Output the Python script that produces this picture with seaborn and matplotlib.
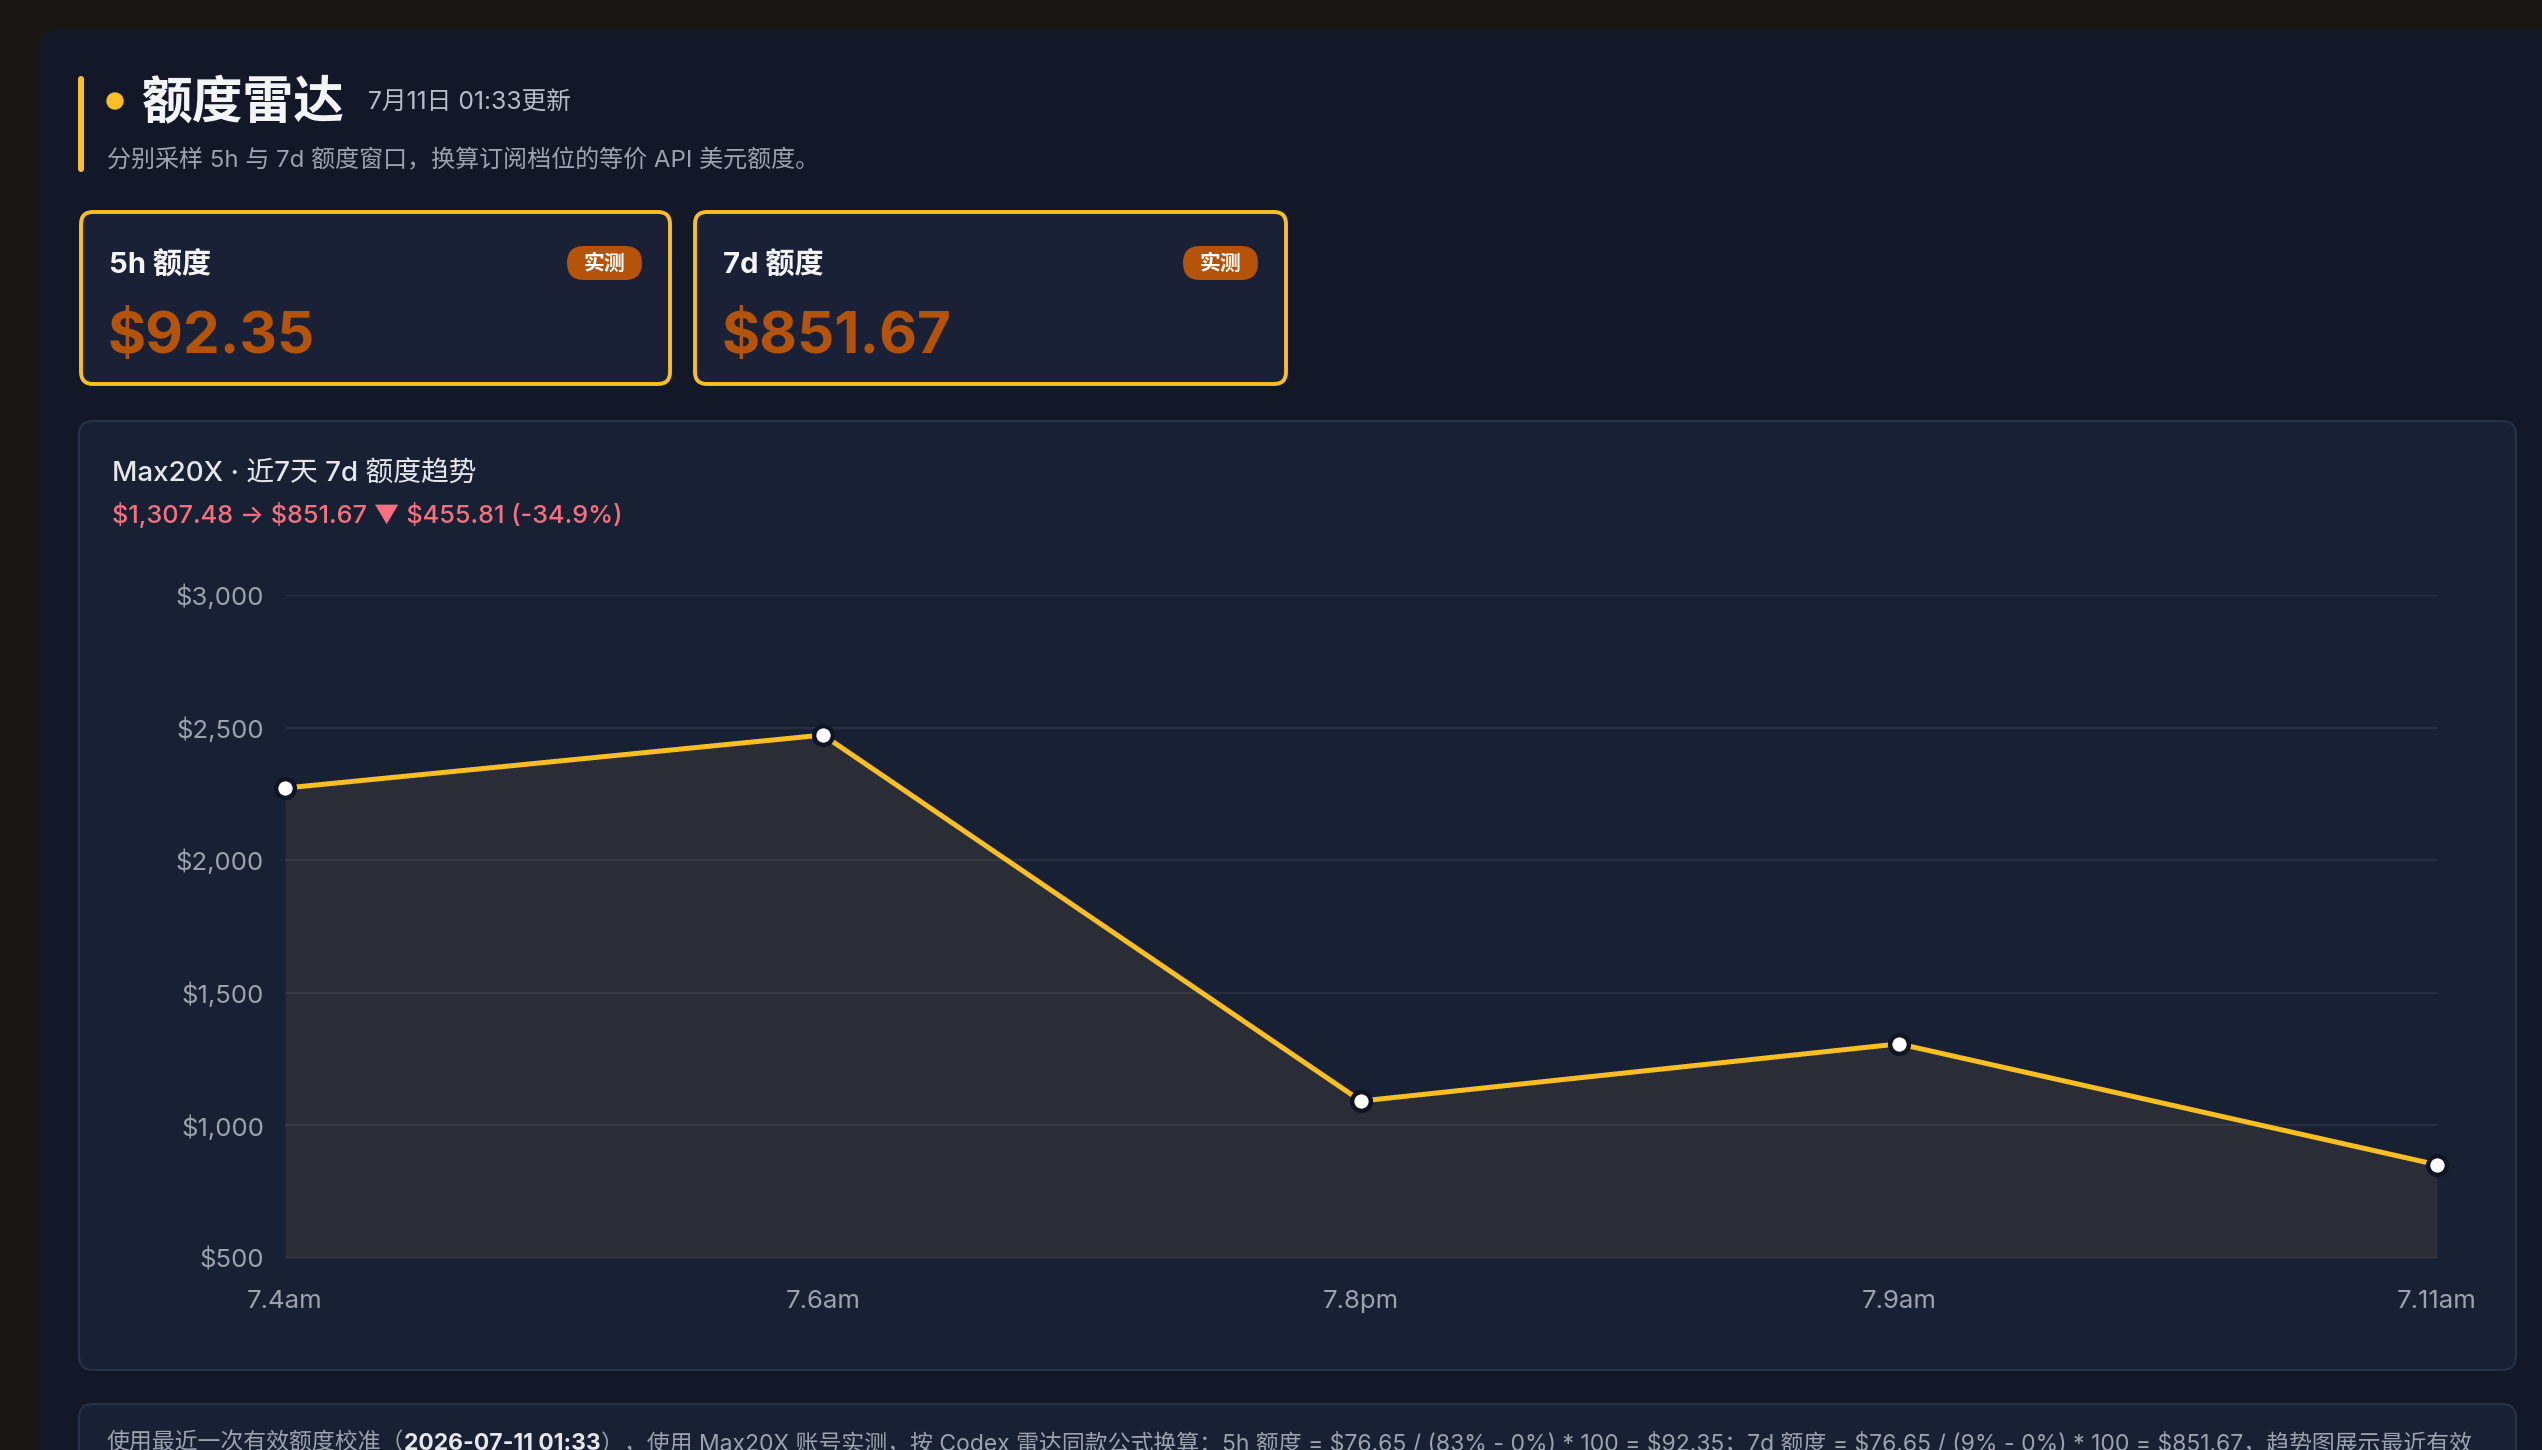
import numpy as np
import pandas as pd
import matplotlib
matplotlib.use('Agg')
import matplotlib.pyplot as plt
import seaborn as sns
from matplotlib.patches import FancyBboxPatch, Circle
from matplotlib.transforms import IdentityTransform
from matplotlib.ticker import FuncFormatter

# ---------------- data ----------------
time_labels = ['7.4am', '7.6am', '7.8pm', '7.9am', '7.11am']
quota_7d = [2272.0, 2472.0, 1092.0, 1307.48, 851.67]
y_ticks = [500, 1000, 1500, 2000, 2500, 3000]
card_titles = ['5h 额度', '7d 额度']
card_values = ['$92.35', '$851.67']
card_badges = ['实测', '实测']
header_title = '额度雷达'
header_time = '7月11日 01:33更新'
header_sub = '分别采样 5h 与 7d 额度窗口，换算订阅档位的等价 API 美元额度。'
chart_title = 'Max20X · 近7天 7d 额度趋势'
chart_delta = '$1,307.48 → $851.67 ▼ $455.81 (-34.9%)'
foot_parts = ['使用最近一次有效额度校准（', '2026-07-11 01:33',
              '），使用 Max20X 账号实测，按 Codex 雷达同款公式换算：5h 额度 = $76.65 / (83% - 0%) * 100 = $92.35；'
              '7d 额度 = $76.65 / (9% - 0%) * 100 = $851.67，趋势图展示最近有效']

# ---------------- setup ----------------
W, H, DPI = 2542, 1450, 100
sns.set_theme(style='dark')
FAM = ['Inter', 'Noto Sans CJK SC', 'DejaVu Sans']
plt.rcParams['font.family'] = FAM
plt.rcParams['axes.unicode_minus'] = False

fig = plt.figure(figsize=(W / DPI, H / DPI), dpi=DPI, facecolor='#1a1614')
ID = IdentityTransform()


def esc(s):
    return s.replace('$', r'\$')


def box(x0, y0, x1, y1, fc, ec='none', lw=0.0, r=0, z=0):
    p = FancyBboxPatch((x0, H - y1), x1 - x0, y1 - y0,
                       boxstyle=f'round,pad=0,rounding_size={r}',
                       transform=ID, facecolor=fc, edgecolor=ec, linewidth=lw, zorder=z)
    fig.add_artist(p)
    return p


def T(x, y, s, **kw):
    kw.setdefault('va', 'center')
    return fig.text(x, H - y, esc(s), transform=ID, **kw)


# main panel
box(39, 30, 2600, 1520, '#121828', r=18)

# header
box(78, 76, 84, 172, '#fbbf24', r=3, z=2)
fig.add_artist(Circle((115, H - 101), 8, transform=ID, color='#fbbf24', zorder=2))
T(141, 104, header_title, fontsize=36.5, weight='bold', color='#f3f4f6')
T(368, 102, header_time, fontsize=17.8, color='#b4bcc8')
T(107, 161, header_sub, fontsize=17.3, color='#9ca3af')

# cards
card_x = [(81, 670), (695, 1286)]
for (x0, x1), title, val, badge in zip(card_x, card_titles, card_values, card_badges):
    box(x0, 212, x1, 384, '#1a2136', ec='#fbbf24', lw=2.8, r=12, z=2)
    T(x0 + 28, 265, title, fontsize=21, weight='bold', color='#f3f4f6', zorder=3)
    box(x1 - 103, 246, x1 - 28, 280, '#b45309', r=17, z=3)
    T(x1 - 65.5, 264, badge, fontsize=15, weight='bold', color='#ffffff', ha='center', zorder=4)
    T(x0 + 27, 338, val, fontsize=42, weight='bold', color='#b4530a', zorder=3)

# chart panel
box(79, 421, 2516, 1370, '#182034', ec='#273248', lw=1.5, r=14, z=1)
T(112, 475, chart_title, fontsize=20, weight='medium', color='#e5e7eb', zorder=3)
T(112, 515, chart_delta, fontsize=18.2, weight='medium', color='#f7707e', zorder=3)

# axes
ax_l, ax_r, ax_t, ax_b = 285, 2437, 595, 1258
ax = fig.add_axes([ax_l / W, 1 - ax_b / H, (ax_r - ax_l) / W, (ax_b - ax_t) / H])
ax.set_facecolor('none')
ax.set_zorder(5)

df = pd.DataFrame({'pos': np.arange(len(time_labels)), 'label': time_labels, 'value': quota_7d})
ax.fill_between(df['pos'], df['value'], y_ticks[0], color='#2a2d36', zorder=1, linewidth=0)
sns.lineplot(data=df, x='pos', y='value', sort=False, ax=ax, color='#fbbf24', linewidth=3.6,
             marker='o', markersize=13.5, markerfacecolor='white', markeredgecolor='#0f1523',
             markeredgewidth=3.2, zorder=4, clip_on=False)

ax.set_xlim(0, len(time_labels) - 1)
ax.set_ylim(y_ticks[0], y_ticks[-1])
ax.set_yticks(y_ticks)
ax.set_xticks(df['pos'])
ax.set_xticklabels(df['label'])
ax.yaxis.set_major_formatter(FuncFormatter(lambda v, p: '\\$' + f'{v:,.0f}'))
ax.set_xlabel('')
ax.set_ylabel('')
for s in ax.spines.values():
    s.set_visible(False)
ax.grid(False)
for v in y_ticks:
    ax.axhline(v, color='white', alpha=0.065, linewidth=1.6, zorder=2)
ax.tick_params(axis='both', length=0, labelsize=18.5, labelcolor='#9ca3af')
ax.tick_params(axis='y', pad=15)
ax.tick_params(axis='x', pad=23)

# footer panel
box(79, 1404, 2516, 1520, '#182034', ec='#273248', lw=1.5, r=14, z=1)
renderer = fig.canvas.get_renderer()
x = 107
for i, part in enumerate(foot_parts):
    bold = (i == 1)
    t = T(x, 1444, part, fontsize=16.5, color='#e5e7eb' if bold else '#9ca3af',
          weight='bold' if bold else 'normal', zorder=3)
    x = t.get_window_extent(renderer).x1

fig.savefig('out.png', dpi=DPI, facecolor=fig.get_facecolor())
